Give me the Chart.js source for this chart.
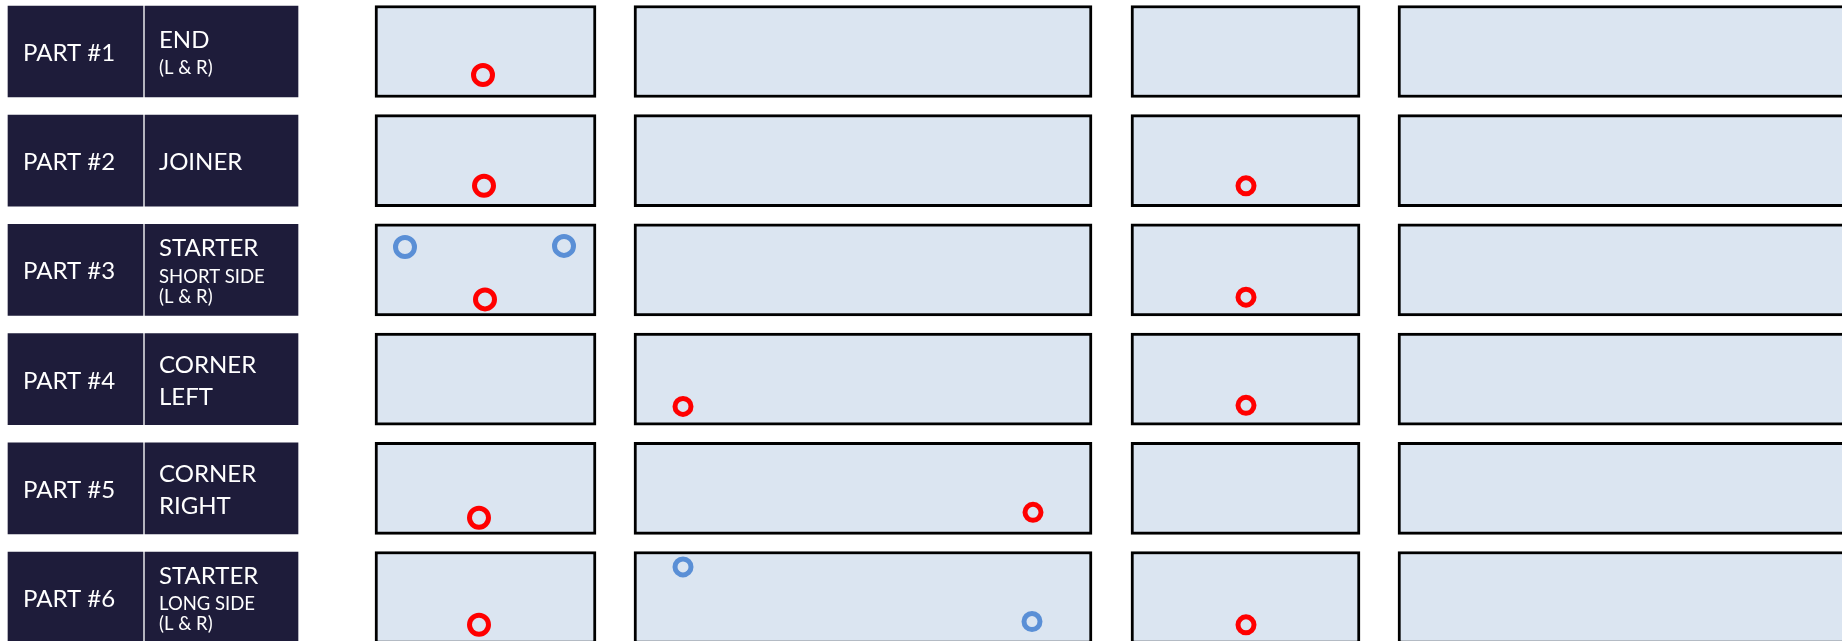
<!DOCTYPE html>
<html>
<head>
<meta charset="utf-8">
<title>Part layout</title>
<script src="https://cdn.jsdelivr.net/npm/chart.js@4.4.0/dist/chart.umd.min.js"></script>
<style>
  html, body { margin: 0; padding: 0; background: #fff; }
  #wrap { width: 1842px; height: 641px; position: relative; }
</style>
</head>
<body>
<div id="wrap"><canvas id="layout"></canvas></div>
<script>
// one row per part
const rows = [1, 2, 3, 4, 5, 6];
const partNames = ["PART #1", "PART #2", "PART #3", "PART #4", "PART #5", "PART #6"];
const partDescriptions = [
  ["END", "(L & R)"],
  ["JOINER"],
  ["STARTER", "SHORT SIDE", "(L & R)"],
  ["CORNER", "LEFT"],
  ["CORNER", "RIGHT"],
  ["STARTER", "LONG SIDE", "(L & R)"]
];

// horizontal extents (layout units) of the name cells and of the four panels
const labelCells = [[8, 143], [145, 298]];
const panels = [[375, 596], [634, 1092], [1131, 1360], [1398, 1900]];

// holes: x in layout units, y in rows (row number + offset inside the row)
const redHoles = [
  {x: 483, y: 1.215},
  {x: 484, y: 2.23}, {x: 1246, y: 2.23},
  {x: 485, y: 3.27}, {x: 1246, y: 3.25},
  {x: 683, y: 4.25}, {x: 1246, y: 4.24},
  {x: 479, y: 5.27}, {x: 1033, y: 5.22},
  {x: 479, y: 6.25}, {x: 1246, y: 6.25}
];
const blueHoles = [
  {x: 405, y: 2.79}, {x: 564, y: 2.78},
  {x: 683, y: 5.72}, {x: 1032, y: 6.22}
];

const navy = "#1e1c3a";
const paleBlue = "#dbe5f1";
const red = "#ff0000";
const blue = "#5a8fd6";

const cellBars = rows.flatMap(r => labelCells.map(c => ({y: r, x: c})));
const panelBars = rows.flatMap(r => panels.map(p => ({y: r, x: p})));

// holes in the first panel are drawn a bit bigger
const holeRadius = ctx => (ctx.raw && ctx.raw.x < panels[0][1]) ? 9.5 : 8;

const partText = {
  id: "partText",
  afterDatasetsDraw(chart) {
    const {ctx, scales: {x, y}} = chart;
    const big = {font: "400 24px Lato", cap: 17};
    const small = {font: "400 18.5px Lato", cap: 13};
    const isSmall = t => t.startsWith("(") || t.includes("SIDE");
    ctx.save();
    ctx.fillStyle = "#ffffff";
    ctx.textBaseline = "alphabetic";
    ctx.textAlign = "left";
    rows.forEach((row, i) => {
      const cy = y.getPixelForValue(row) + 1;
      ctx.font = big.font;
      ctx.fillText(partNames[i], x.getPixelForValue(labelCells[0][0]) + 15, cy + big.cap / 2);

      const lines = partDescriptions[i];
      const base = [0];
      for (let k = 1; k < lines.length; k++) {
        const prevSmall = isSmall(lines[k - 1]), curSmall = isSmall(lines[k]);
        base.push(base[k - 1] + (prevSmall ? 20 : (curSmall ? 26.5 : 32)));
      }
      const top = -(isSmall(lines[0]) ? small.cap : big.cap);
      const mid = (top + base[base.length - 1]) / 2;
      const tx = x.getPixelForValue(labelCells[1][0]) + 14;
      lines.forEach((t, k) => {
        ctx.font = isSmall(t) ? small.font : big.font;
        ctx.fillText(t, tx, cy - mid + base[k]);
      });
    });
    ctx.restore();
  }
};

new Chart(document.getElementById("layout"), {
  type: "bar",
  data: {
    datasets: [
      {
        type: "scatter",
        label: "Holes (red)",
        data: redHoles,
        order: 0,
        borderColor: red,
        backgroundColor: "rgba(0,0,0,0)",
        pointRadius: holeRadius,
        pointBorderWidth: 5
      },
      {
        type: "scatter",
        label: "Holes (blue)",
        data: blueHoles,
        order: 0,
        borderColor: blue,
        backgroundColor: "rgba(0,0,0,0)",
        pointRadius: holeRadius,
        pointBorderWidth: 5
      },
      {
        label: "Name cells",
        data: cellBars,
        indexAxis: "y",
        order: 1,
        grouped: false,
        barThickness: 91,
        backgroundColor: navy,
        borderWidth: 0
      },
      {
        label: "Panels",
        data: panelBars,
        indexAxis: "y",
        order: 1,
        grouped: false,
        barThickness: 92,
        backgroundColor: paleBlue,
        borderColor: "#000000",
        borderWidth: 3,
        borderSkipped: false
      }
    ]
  },
  options: {
    responsive: true,
    maintainAspectRatio: false,
    animation: false,
    events: [],
    layout: {padding: 0, autoPadding: false},
    plugins: {legend: {display: false}, tooltip: {enabled: false}},
    scales: {
      // offset must stay off, the bar chart default would pad the linear ranges
      x: {type: "linear", offset: false, min: 0, max: 1842, display: false},
      y: {type: "linear", offset: false, reverse: true, min: 1 - 51.5 / 109.2, max: 1 + 589.5 / 109.2, display: false}
    }
  },
  plugins: [partText]
});
</script>
</body>
</html>
